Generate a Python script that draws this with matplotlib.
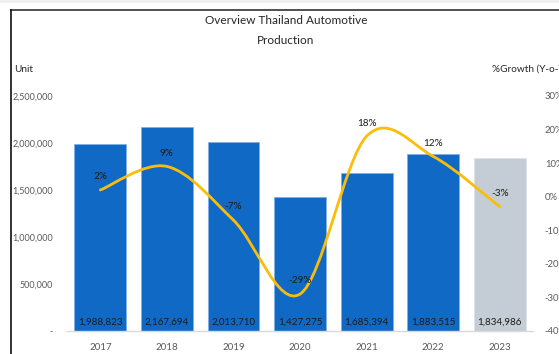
import matplotlib
matplotlib.use('Agg')
import matplotlib.pyplot as plt
from matplotlib.path import Path
from matplotlib.patches import PathPatch, Rectangle
from matplotlib.lines import Line2D
from matplotlib.ticker import FuncFormatter

years = ['2017', '2018', '2019', '2020', '2021', '2022', '2023']
production = [1988823, 2167694, 2013710, 1427275, 1685394, 1883515, 1834986]
growth = [2, 9, -7, -29, 18, 12, -3]

plt.rcParams['font.family'] = ['Lato', 'DejaVu Sans']

BLUE = '#1169c6'
GREY_BAR = '#c4cdd5'
LINE = '#fbbd08'
TICK = '#595959'


def smooth_path(xs, ys):
    # Catmull-Rom style bezier, similar to spreadsheet "smoothed line"
    pts = list(zip(xs, ys))
    verts = [pts[0]]
    codes = [Path.MOVETO]
    n = len(pts)
    for i in range(n - 1):
        p0 = pts[i - 1] if i > 0 else pts[i]
        p1 = pts[i]
        p2 = pts[i + 1]
        p3 = pts[i + 2] if i + 2 < n else pts[i + 1]
        c1 = (p1[0] + (p2[0] - p0[0]) / 6, p1[1] + (p2[1] - p0[1]) / 6)
        c2 = (p2[0] - (p3[0] - p1[0]) / 6, p2[1] - (p3[1] - p1[1]) / 6)
        verts += [c1, c2, p2]
        codes += [Path.CURVE4] * 3
    return Path(verts, codes)


fig = plt.figure(figsize=(5.59, 3.54), dpi=100)
ax = fig.add_axes([0.12, 0.065, 0.8335, 0.664])

x = list(range(len(years)))
colors = [BLUE] * (len(years) - 1) + [GREY_BAR]
edges = ['#7fb0e6'] * (len(years) - 1) + ['#dde3e8']
ax.bar(x, production, width=0.78, color=colors, edgecolor=edges, linewidth=0.6, zorder=2)

for xi, v in zip(x, production):
    ax.text(xi, 90000, f'{v:,}', ha='center', va='center', fontsize=7,
            color='#1a1a1a', zorder=5)

ax.set_xlim(-0.5, len(years) - 0.5)
ax.set_ylim(0, 2500000)
ax.set_yticks(range(0, 2500001, 500000))
ax.yaxis.set_major_formatter(FuncFormatter(lambda v, p: '-' if v == 0 else f'{int(v):,}'))
ax.set_xticks(x)
ax.set_xticklabels(years)
ax.tick_params(axis='both', length=0, labelsize=7, labelcolor=TICK)
ax.tick_params(axis='y', pad=10, labelsize=6.5)
ax.tick_params(axis='x', pad=9)
for s in ['top', 'right', 'left']:
    ax.spines[s].set_visible(False)
ax.spines['bottom'].set_color('#d9d9d9')
ax.spines['bottom'].set_linewidth(1.0)

ax2 = ax.twinx()
ax2.set_ylim(-40, 30)
ax2.set_yticks(range(-40, 31, 10))
ax2.yaxis.set_major_formatter(FuncFormatter(lambda v, p: f'{int(v)}%'))
ax2.tick_params(axis='y', length=0, labelsize=6.8, labelcolor=TICK, pad=8.5)
for s in ax2.spines.values():
    s.set_visible(False)

ax2.add_patch(PathPatch(smooth_path(x, growth), facecolor='none', edgecolor=LINE,
                        linewidth=2.0, capstyle='round', zorder=3))
for xi, g in zip(x, growth):
    ax2.annotate(f'{g}%', (xi, g), xytext=(0, 9.5), textcoords='offset points',
                 ha='center', va='center', fontsize=7.2, color='#1a1a1a', zorder=5)

fig.text(286 / 559, 1 - 20 / 354, 'Overview Thailand Automotive', ha='center',
         va='center', fontsize=8.5, color='#262626')
fig.text(286 / 559, 1 - 40 / 354, 'Production', ha='center', va='center',
         fontsize=8.5, color='#262626')
fig.text(14 / 559, 1 - 69 / 354, 'Unit', ha='left', va='center', fontsize=7.2,
         color='#262626')
fig.text(492 / 559, 1 - 69 / 354, '%Growth (Y-o-Y)', ha='left', va='center',
         fontsize=7.2, color='#262626')

# outer frame (top and left edges)
fig.add_artist(Rectangle((0, 1 - 3 / 354), 1, 3 / 354, transform=fig.transFigure,
                         facecolor='#f0f0f0', edgecolor='none'))
fig.add_artist(Line2D([11 / 559, 1], [1 - 10 / 354, 1 - 10 / 354],
                      transform=fig.transFigure, color='#333333', linewidth=1.2))
fig.add_artist(Line2D([11 / 559, 11 / 559], [0, 1 - 10 / 354],
                      transform=fig.transFigure, color='#111111', linewidth=1.2))

fig.savefig('out.png', dpi=100)
